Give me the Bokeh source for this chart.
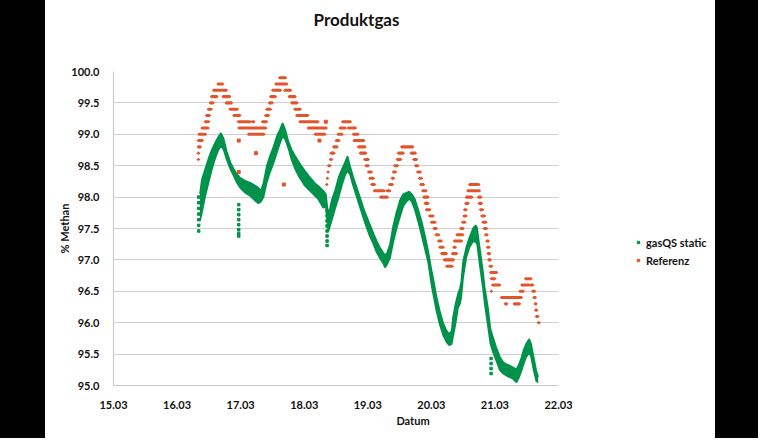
from bokeh.plotting import figure
from bokeh.models import FixedTicker, Legend, LegendItem, Div, Range1d, Title
from bokeh.layouts import row
from bokeh.embed import file_html
from bokeh.resources import INLINE

# ---------------- data ----------------
x_ticks = [15, 16, 17, 18, 19, 20, 21, 22]
x_tick_labels = ["15.03", "16.03", "17.03", "18.03", "19.03", "20.03", "21.03", "22.03"]
y_ticks = [95.0, 95.5, 96.0, 96.5, 97.0, 97.5, 98.0, 98.5, 99.0, 99.5, 100.0]

gas_day = [16.36, 16.39, 16.44, 16.50, 16.55, 16.60, 16.65, 16.69, 16.73, 16.78, 16.84, 16.89,
           16.94, 16.99, 17.07, 17.15, 17.23, 17.28, 17.32, 17.36, 17.41, 17.46, 17.52, 17.57,
           17.62, 17.66, 17.70, 17.75, 17.80, 17.86, 17.91, 17.96, 18.01, 18.07, 18.12, 18.17,
           18.22, 18.30, 18.34, 18.38, 18.43, 18.49, 18.54, 18.59, 18.64, 18.68, 18.72, 18.77,
           18.83, 18.88, 18.93, 18.98, 19.03, 19.09, 19.14, 19.19, 19.24, 19.27, 19.30, 19.35,
           19.40, 19.45, 19.51, 19.56, 19.61, 19.65, 19.69, 19.74, 19.79, 19.85, 19.90, 19.95,
           20.00, 20.03, 20.08, 20.13, 20.19, 20.24, 20.28, 20.32, 20.34, 20.38, 20.42, 20.45,
           20.47, 20.50, 20.55, 20.60, 20.66, 20.70, 20.72, 20.76, 20.81, 20.84, 20.89, 20.93,
           20.97, 21.02, 21.08, 21.13, 21.18, 21.23, 21.28, 21.34, 21.38, 21.42, 21.45, 21.49,
           21.54, 21.57, 21.61, 21.65, 21.68]
gas_lo = [97.62, 97.75, 98.00, 98.25, 98.45, 98.62, 98.75, 98.82, 98.76, 98.60, 98.44, 98.34,
          98.23, 98.15, 98.07, 98.02, 97.94, 97.90, 97.93, 98.00, 98.23, 98.39, 98.55, 98.71,
          98.86, 98.97, 98.92, 98.78, 98.60, 98.44, 98.34, 98.26, 98.18, 98.12, 98.07, 98.02,
          97.97, 97.83, 97.85, 97.45, 97.62, 97.83, 97.99, 98.18, 98.34, 98.42, 98.36, 98.18,
          97.99, 97.83, 97.67, 97.52, 97.38, 97.25, 97.12, 97.03, 96.95, 96.88, 96.92, 97.03,
          97.28, 97.49, 97.70, 97.86, 97.93, 97.97, 97.93, 97.80, 97.62, 97.38, 97.17, 96.96,
          96.62, 96.45, 96.19, 95.98, 95.79, 95.69, 95.64, 95.66, 95.77, 95.98, 96.24, 96.30,
          96.40, 96.72, 97.04, 97.20, 97.30, 97.28, 97.25, 96.93, 96.56, 96.30, 95.95, 95.66,
          95.53, 95.40, 95.24, 95.19, 95.16, 95.13, 95.11, 95.05, 95.13, 95.24, 95.34, 95.45,
          95.53, 95.45, 95.24, 95.07, 95.05]
gas_hi = [98.05, 98.28, 98.44, 98.63, 98.76, 98.87, 98.96, 99.02, 98.94, 98.73, 98.55, 98.45,
          98.37, 98.31, 98.26, 98.23, 98.18, 98.15, 98.10, 98.23, 98.49, 98.65, 98.81, 98.97,
          99.08, 99.18, 99.08, 98.89, 98.76, 98.65, 98.57, 98.49, 98.42, 98.34, 98.28, 98.22,
          98.18, 98.10, 98.05, 97.70, 97.94, 98.12, 98.31, 98.44, 98.55, 98.65, 98.50, 98.32,
          98.14, 97.99, 97.83, 97.70, 97.57, 97.42, 97.30, 97.20, 97.12, 97.08, 97.10, 97.25,
          97.54, 97.75, 97.96, 98.05, 98.07, 98.09, 98.05, 97.97, 97.81, 97.60, 97.38, 97.14,
          96.85, 96.70, 96.42, 96.20, 95.98, 95.87, 95.82, 95.87, 96.08, 96.30, 96.46, 96.55,
          96.65, 96.98, 97.20, 97.36, 97.51, 97.55, 97.51, 97.20, 96.83, 96.56, 96.24, 95.90,
          95.77, 95.61, 95.45, 95.37, 95.34, 95.32, 95.29, 95.26, 95.34, 95.45, 95.56, 95.66,
          95.74, 95.66, 95.45, 95.24, 95.13]

# gasQS static: isolated single readings (drops)
spike_day = [16.34, 16.34, 16.34, 16.34, 16.34, 16.34, 16.34,
             16.97, 16.97, 16.97, 16.97, 16.97, 16.97, 16.97, 16.97,
             18.36, 18.36, 18.36, 18.36, 18.36, 18.36, 18.36, 18.36,
             20.94, 20.94, 20.94, 20.94]
spike_val = [97.46, 97.55, 97.64, 97.73, 97.82, 97.91, 98.00,
             97.38, 97.42, 97.48, 97.56, 97.64, 97.72, 97.80, 97.88,
             97.23, 97.30, 97.38, 97.46, 97.54, 97.62, 97.70, 97.78,
             95.19, 95.27, 95.35, 95.43]

# Referenz: runs of constant reading (start day, end day, value)
ref_start = [16.33, 16.33, 16.33, 16.33, 16.34, 16.39, 16.44, 16.46, 16.49, 16.52, 16.54, 16.57,
             16.64, 16.72, 16.77, 16.83, 16.89, 16.96, 17.18, 16.97, 17.12,
             17.29, 17.34, 17.39, 17.41, 17.45, 17.47, 17.50, 17.55, 17.61, 17.69, 17.76, 17.80,
             17.85, 17.88, 17.93, 18.06, 18.17,
             18.35, 18.36, 18.37, 18.38, 18.41, 18.42, 18.46, 18.50, 18.53, 18.56, 18.60, 18.69,
             18.77, 18.78, 18.85, 18.88, 18.95, 18.97, 19.01, 19.03, 19.06, 19.10, 19.20,
             19.30, 19.34, 19.38, 19.40, 19.42, 19.46, 19.48, 19.53, 19.68, 19.72, 19.75, 19.78,
             19.81, 19.83, 19.86, 19.88, 19.90, 19.92, 19.97, 20.00, 20.04, 20.07, 20.11, 20.13,
             20.16, 20.20, 20.24, 20.30, 20.33, 20.35, 20.36, 20.40, 20.46, 20.49, 20.51, 20.52,
             20.54, 20.55, 20.57, 20.60, 20.74, 20.75, 20.77, 20.79, 20.81, 20.83, 20.85, 20.87,
             20.88, 20.89, 20.90, 20.92, 20.93, 20.94, 20.96, 20.94, 21.10, 21.16, 21.30, 21.39,
             21.42, 21.48, 21.55, 21.59, 21.61, 21.63, 21.64, 21.65, 21.68]
ref_end = [16.34, 16.34, 16.37, 16.40, 16.45, 16.49, 16.50, 16.51, 16.54, 16.57, 16.63, 16.78,
           16.72, 16.83, 16.86, 16.95, 16.99, 17.15, 17.21, 17.28, 17.37,
           17.40, 17.41, 17.44, 17.47, 17.50, 17.55, 17.63, 17.73, 17.71, 17.79, 17.86, 17.89,
           17.94, 18.06, 18.22, 18.35, 18.33,
           18.36, 18.37, 18.38, 18.41, 18.43, 18.47, 18.52, 18.55, 18.60, 18.65, 18.73, 18.81,
           18.85, 18.94, 18.96, 18.97, 19.01, 19.01, 19.06, 19.09, 19.11, 19.26, 19.31,
           19.35, 19.39, 19.41, 19.44, 19.47, 19.52, 19.56, 19.71, 19.75, 19.77, 19.79, 19.83,
           19.85, 19.88, 19.92, 19.95, 19.95, 19.98, 20.03, 20.06, 20.08, 20.12, 20.16, 20.19,
           20.24, 20.29, 20.33, 20.35, 20.40, 20.38, 20.48, 20.50, 20.50, 20.53, 20.55, 20.55,
           20.58, 20.64, 20.76, 20.75, 20.78, 20.79, 20.81, 20.84, 20.86, 20.87, 20.88, 20.90,
           20.91, 20.92, 20.93, 20.95, 21.03, 21.00, 21.08, 20.95, 21.42, 21.19, 21.39, 21.45,
           21.53, 21.57, 21.60, 21.63, 21.64, 21.65, 21.66, 21.68, 21.70]
ref_val = [98.6, 98.7, 98.8, 98.9, 99.0, 99.1, 99.2, 99.3, 99.4, 99.5, 99.6, 99.7,
           99.8, 99.6, 99.5, 99.4, 99.3, 99.2, 99.2, 99.1, 99.0,
           99.1, 99.2, 99.3, 99.4, 99.5, 99.6, 99.7, 99.8, 99.9, 99.7, 99.6, 99.5,
           99.4, 99.3, 99.2, 99.1, 99.0,
           98.2, 98.3, 98.4, 98.5, 98.6, 98.7, 98.8, 98.9, 99.0, 99.1, 99.2, 99.1,
           99.0, 98.9, 98.8, 98.7, 98.6, 98.5, 98.4, 98.3, 98.2, 98.1, 98.0,
           98.1, 98.2, 98.3, 98.4, 98.5, 98.6, 98.7, 98.8, 98.7, 98.6, 98.5, 98.4,
           98.3, 98.2, 98.1, 98.0, 97.9, 97.8, 97.7, 97.6, 97.5, 97.4, 97.3, 97.2,
           97.1, 97.0, 96.9, 97.0, 97.1, 97.2, 97.3, 97.4, 97.5, 97.6, 97.7, 97.8,
           97.9, 98.0, 98.1, 98.2, 98.0, 97.9, 97.8, 97.7, 97.6, 97.5, 97.4, 97.3,
           97.2, 97.1, 97.0, 96.9, 96.8, 96.7, 96.6, 96.5, 96.4, 96.3, 96.3, 96.5,
           96.6, 96.7, 96.6, 96.5, 96.4, 96.3, 96.2, 96.1, 96.0]

# Referenz: isolated single readings
iso_day = [16.97, 16.97, 17.24, 17.68, 18.24, 18.34]
iso_val = [98.4, 98.9, 98.7, 98.2, 98.9, 99.2]

# ---------------- styling ----------------
GREEN = "#00924B"
RED = "#E2542A"
FONT = "Lato"
TXT = "#111111"

FIG_W, FIG_H = 670, 438
FRAME_L, FRAME_T, FRAME_H = 68, 71, 314
DAY_PX = 63.57                      # pixels per day on the x axis
FRAME_W = 599                       # frame continues to the right to hold the legend
x_end = x_ticks[0] + FRAME_W / DAY_PX

p = figure(width=FIG_W, height=FIG_H,
           x_range=Range1d(x_ticks[0], x_end), y_range=Range1d(y_ticks[0], y_ticks[-1]),
           output_backend="svg", toolbar_location=None,
           min_border_left=FRAME_L, min_border_right=FIG_W - FRAME_L - FRAME_W,
           min_border_top=FRAME_T, min_border_bottom=FIG_H - FRAME_T - FRAME_H)
p.outline_line_color = None
p.background_fill_color = "white"
p.border_fill_color = "white"

# spacer between the frame and the title (keeps the title high above the plot)
p.add_layout(Title(text=" ", text_font_size="1px", standoff=39), "above")

p.title.text = "Produktgas"
p.title.align = "left"
p.title.offset = 200
p.title.standoff = 0
p.title.vertical_align = "bottom"
p.title.text_font = FONT
p.title.text_font_size = "17px"
p.title.text_font_style = "bold"
p.title.text_color = TXT

p.xaxis.ticker = FixedTicker(ticks=x_ticks)
p.xaxis.major_label_overrides = {t: l for t, l in zip(x_ticks, x_tick_labels)}
p.xaxis.bounds = (x_ticks[0], x_ticks[-1])
p.yaxis.ticker = FixedTicker(ticks=y_ticks)
p.yaxis.major_label_overrides = {t: f"{t:.1f}" for t in y_ticks}
p.xaxis.axis_label = "Datum"
p.yaxis.axis_label = "% Methan"
for ax in (p.xaxis, p.yaxis):
    ax.major_tick_line_color = None
    ax.minor_tick_line_color = None
    ax.axis_line_color = "#c8c8c8"
    ax.major_label_text_font = FONT
    ax.major_label_text_font_style = "bold"
    ax.major_label_text_font_size = "11px"
    ax.major_label_text_color = TXT
    ax.axis_label_text_font = FONT
    ax.axis_label_text_font_style = "bold"
    ax.axis_label_text_font_size = "11px"
    ax.axis_label_text_color = TXT
p.yaxis.major_label_standoff = 8
p.yaxis.axis_label_standoff = -3
p.xaxis.major_label_standoff = 9
p.xaxis.axis_label_standoff = 2

p.xgrid.visible = False
p.ygrid.grid_line_color = "#d0d0d0"
p.ygrid.grid_line_width = 1
try:
    p.ygrid.cross_bounds = (x_ticks[0], x_ticks[-1])
except AttributeError:
    p.ygrid.visible = False
    p.multi_line(xs=[[x_ticks[0], x_ticks[-1]] for _ in y_ticks], ys=[[t, t] for t in y_ticks],
                 line_color="#d0d0d0", line_width=1)

# gasQS static band
p.varea(x=gas_day, y1=gas_lo, y2=gas_hi, fill_color=GREEN)
p.line(gas_day, gas_lo, line_color=GREEN, line_width=1.6)
p.line(gas_day, gas_hi, line_color=GREEN, line_width=1.6)
r_spike = p.scatter(spike_day, spike_val, marker="square", size=2.5, color=GREEN)

# Referenz
p.hbar(y=ref_val, left=ref_start, right=ref_end, height=0.004,
       fill_color=RED, line_color=RED, line_width=2.8)
r_iso = p.scatter(iso_day, iso_val, marker="square", size=3, color=RED)

legend = Legend(items=[LegendItem(label="gasQS static", renderers=[r_spike]),
                       LegendItem(label="Referenz", renderers=[r_iso])],
                location=(522, 118), orientation="vertical",
                glyph_width=6, glyph_height=14, label_height=14, label_standoff=5,
                spacing=4, padding=0, margin=0,
                border_line_color=None, background_fill_alpha=0,
                label_text_font=FONT, label_text_font_style="bold",
                label_text_font_size="11px", label_text_color=TXT)
p.add_layout(legend)

left_band = Div(text="", width=45, height=FIG_H, margin=0, styles={"background-color": "#000000"})
right_band = Div(text="", width=43, height=FIG_H, margin=0, styles={"background-color": "#000000"})
layout = row(left_band, p, right_band, spacing=0)

open("out.html", "w").write(file_html(layout, INLINE))
